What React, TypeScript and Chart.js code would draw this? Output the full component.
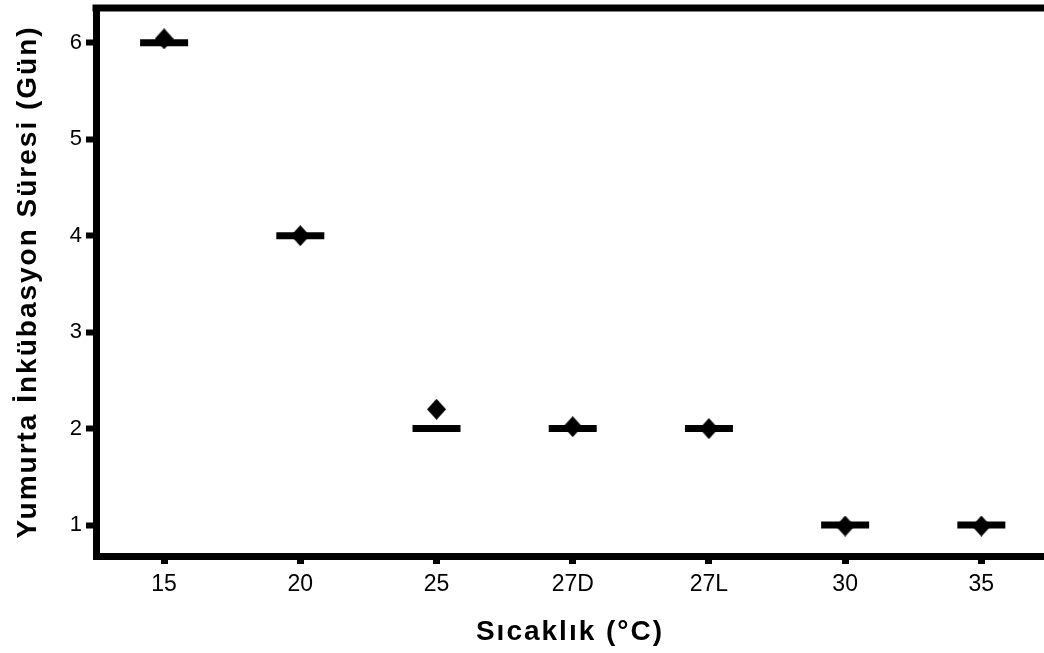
import React, { useEffect, useRef } from "react";
import { Chart, registerables } from "chart.js";

Chart.register(...registerables);

const categories = ["15", "20", "25", "27D", "27L", "30", "35"];
const medianDays = [6, 4, 2, 2, 2, 1, 1];
const meanDays = [6.04, 4.0, 2.2, 2.02, 2.0, 0.99, 0.99];
const yTickValues = [1, 2, 3, 4, 5, 6];
const xTitle = "Sıcaklık (°C)";
const yTitle = "Yumurta İnkübasyon Süresi (Gün)";

const TITLE_FONT = "bold 28px 'Liberation Sans', Arial, sans-serif";

function makeDiamond(w: number, h: number) {
  const c = document.createElement("canvas");
  c.width = w;
  c.height = h;
  const g = c.getContext("2d")!;
  g.fillStyle = "#000";
  g.beginPath();
  g.moveTo(w / 2, 0);
  g.lineTo(w, h / 2);
  g.lineTo(w / 2, h);
  g.lineTo(0, h / 2);
  g.closePath();
  g.fill();
  return c;
}

const framePlugin = {
  id: "frameAndTitles",
  afterDatasetsDraw(chart: any) {
    const { ctx, chartArea } = chart;
    ctx.save();
    ctx.strokeStyle = "#000";
    ctx.lineWidth = 7;
    ctx.beginPath();
    ctx.moveTo(chartArea.left - 3.5, chartArea.top);
    ctx.lineTo(chart.width, chartArea.top);
    ctx.stroke();
    ctx.restore();
  },
  afterDraw(chart: any) {
    const { ctx, chartArea } = chart;
    ctx.save();
    ctx.fillStyle = "#000";
    ctx.font = TITLE_FONT;
    (ctx as any).letterSpacing = "2px";
    ctx.textAlign = "center";
    ctx.textBaseline = "alphabetic";
    const cx = (chartArea.left + chartArea.right) / 2;
    ctx.fillText(xTitle, cx, chartArea.bottom + 84);
    const cy = (chartArea.top + chartArea.bottom) / 2;
    ctx.translate(36, cy);
    ctx.rotate(-Math.PI / 2);
    ctx.fillText(yTitle, 0, 0);
    ctx.restore();
  },
};

export default function App() {
  const ref = useRef<HTMLCanvasElement>(null);
  useEffect(() => {
    const canvas = ref.current!;
    const diamond = makeDiamond(19, 21);
    const chart = new Chart(canvas, {
      type: "scatter",
      data: {
        datasets: [
          {
            label: "mean",
            data: meanDays.map((y, i) => ({ x: i, y })),
            pointStyle: diamond as any,
            pointRadius: 10,
            backgroundColor: "#000",
            borderColor: "#000",
          },
          {
            label: "median",
            data: medianDays.map((y, i) => ({ x: i, y })),
            pointStyle: "line",
            pointRadius: 24,
            pointBorderWidth: 7,
            borderColor: "#000",
            backgroundColor: "#000",
          },
        ],
      },
      options: {
        responsive: false,
        animation: false,
        layout: { autoPadding: false, padding: { top: 8, right: 0, left: 0, bottom: 0 } },
        plugins: { legend: { display: false }, tooltip: { enabled: false } },
        scales: {
          x: {
            type: "linear",
            min: -0.5,
            max: 6.46,
            afterBuildTicks: (s: any) => {
              s.ticks = categories.map((_, i) => ({ value: i }));
            },
            afterFit: (s: any) => {
              s.height = 97;
              s.paddingLeft = 0;
              s.paddingRight = 0;
              s.paddingTop = 0;
              s.paddingBottom = 0;
            },
            ticks: {
              callback: (v: any) => categories[Math.round(v)] ?? "",
              color: "#000",
              font: { family: "Liberation Sans", size: 23 },
              padding: 7,
              maxRotation: 0,
            },
            grid: {
              drawOnChartArea: false,
              drawTicks: true,
              tickLength: 8,
              tickWidth: 7,
              tickColor: "#000",
            },
            border: { display: true, color: "#000", width: 7 },
            title: { display: false, text: xTitle },
          },
          y: {
            type: "linear",
            min: 0.679,
            max: 6.36,
            afterBuildTicks: (s: any) => {
              s.ticks = yTickValues.map((v) => ({ value: v }));
            },
            afterFit: (s: any) => {
              s.width = 96;
              s.paddingTop = 0;
              s.paddingBottom = 0;
              s.paddingLeft = 0;
              s.paddingRight = 0;
            },
            ticks: {
              callback: (v: any) => String(v),
              color: "#000",
              font: { family: "Liberation Sans", size: 22 },
              padding: 4,
            },
            grid: {
              drawOnChartArea: false,
              drawTicks: true,
              tickLength: 10,
              tickWidth: 6,
              tickColor: "#000",
            },
            border: { display: true, color: "#000", width: 7 },
            title: { display: false, text: yTitle },
          },
        },
      },
      plugins: [framePlugin],
    });
    return () => chart.destroy();
  }, []);
  return (
    <div style={{ position: "absolute", left: 0, top: 0 }}>
      <canvas ref={ref} width={1044} height={653} style={{ display: "block" }} />
    </div>
  );
}
